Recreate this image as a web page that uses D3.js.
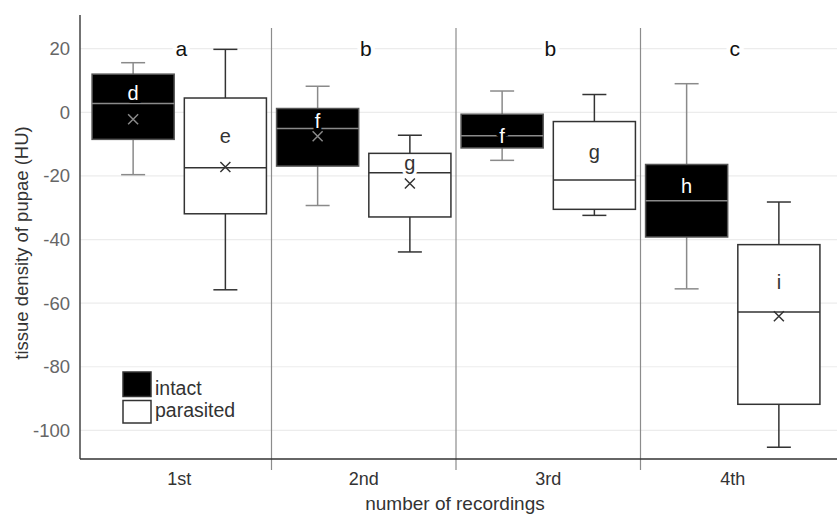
<!DOCTYPE html>
<html>
<head>
<meta charset="utf-8">
<script src="https://cdn.jsdelivr.net/npm/d3@7"></script>
<style>
  body { margin: 0; background: #fff; }
  svg { font-family: "Liberation Sans", Arial, sans-serif; }
</style>
</head>
<body>
<svg id="chart" width="837" height="515"></svg>
<script>
// recordings on the x axis, letters of the group test above each
const categories = ['1st', '2nd', '3rd', '4th'];
const groupLetters = ['a', 'b', 'b', 'c'];
const yTicks = [-100, -80, -60, -40, -20, 0, 20];

// intact pupae (black boxes)
const intactHigh   = [15.6, 8.2, 6.7, 9.0];
const intactQ3     = [12.0, 1.2, -0.6, -16.4];
const intactMedian = [2.8, -5.1, -7.4, -27.8];
const intactQ1     = [-8.5, -16.9, -11.2, -39.2];
const intactLow    = [-19.6, -29.3, -15.1, -55.5];
const intactMean   = [-2.2, -7.5, null, null];
const intactLetters = ['d', 'f', 'f', 'h'];
const intactLetterAt = [6.0, -2.8, -7.5, -23.0];

// parasited pupae (white boxes)
const parasitedHigh   = [19.8, -7.2, 5.6, -28.2];
const parasitedQ3     = [4.5, -12.9, -2.9, -41.6];
const parasitedMedian = [-17.4, -19.0, -21.3, -62.8];
const parasitedQ1     = [-31.9, -32.9, -30.5, -91.8];
const parasitedLow    = [-55.8, -43.9, -32.4, -105.3];
const parasitedMean   = [-17.2, -22.4, null, -64.1];
const parasitedLetters = ['e', 'g', 'g', 'i'];
const parasitedLetterAt = [-7.5, -16.0, -12.5, -53.4];

const series = ['intact', 'parasited'];

function buildBoxes(name, high, q3, med, q1, low, mean, letters, letterAt) {
    return categories.map((c, i) => ({
        cat: c, series: name,
        high: high[i], q3: q3[i], median: med[i], q1: q1[i], low: low[i],
        mean: mean[i], letter: letters[i], letterAt: letterAt[i]
    }));
}

const boxes = buildBoxes('intact', intactHigh, intactQ3, intactMedian, intactQ1, intactLow,
        intactMean, intactLetters, intactLetterAt)
    .concat(buildBoxes('parasited', parasitedHigh, parasitedQ3, parasitedMedian, parasitedQ1,
        parasitedLow, parasitedMean, parasitedLetters, parasitedLetterAt));

const style = {
    intact:    { fill: '#000', edge: '#555', line: '#8a8a8a', text: '#fff', halo: '#000' },
    parasited: { fill: '#fff', edge: '#333', line: '#333', text: '#333', halo: '#fff' }
};

const svg = d3.select('#chart');
const axisX = 80, plotLeft = 87, plotRight = 825, right = 837;

const y = d3.scaleLinear().domain([-109, 30.6]).range([459, 15]);
const x = d3.scaleBand().domain(categories).range([plotLeft, plotRight]).padding(0);
const xs = d3.scaleBand().domain(series).range([0, x.bandwidth()])
    .paddingInner(0.11).paddingOuter(0.055);

// horizontal gridlines
svg.append('g')
    .selectAll('line')
    .data(yTicks)
    .enter().append('line')
        .attr('x1', axisX).attr('x2', right)
        .attr('y1', d => y(d)).attr('y2', d => y(d))
        .attr('stroke', '#ececec').attr('stroke-width', 1.2);

// separators between recordings
svg.append('g')
    .selectAll('line')
    .data(categories.slice(1))
    .enter().append('line')
        .attr('x1', d => x(d)).attr('x2', d => x(d))
        .attr('y1', y(26.5)).attr('y2', y.range()[0] + 11)
        .attr('stroke', '#8c8c8c').attr('stroke-width', 1.2);

// y axis (plain hyphen for the minus, as in the original)
const gy = svg.append('g')
    .attr('transform', 'translate(' + axisX + ',0)')
    .call(d3.axisLeft(y).tickValues(yTicks).tickFormat(d => String(d))
        .tickSize(0).tickPadding(10));
gy.select('.domain').remove();
gy.selectAll('text').attr('font-size', 18.5).attr('fill', '#666')
    .attr('font-family', '"Liberation Sans", Arial, sans-serif');
svg.append('line')
    .attr('x1', axisX).attr('x2', axisX)
    .attr('y1', y.range()[1]).attr('y2', y.range()[0])
    .attr('stroke', '#444').attr('stroke-width', 1.5);

// x axis
const gx = svg.append('g')
    .attr('transform', 'translate(0,' + y.range()[0] + ')')
    .call(d3.axisBottom(x).tickSize(0).tickPadding(13));
gx.select('.domain').remove();
gx.selectAll('text').attr('font-size', 18).attr('fill', '#333')
    .attr('font-family', '"Liberation Sans", Arial, sans-serif');
svg.append('line')
    .attr('x1', axisX).attr('x2', right)
    .attr('y1', y.range()[0]).attr('y2', y.range()[0])
    .attr('stroke', '#333').attr('stroke-width', 1.6);

// group letters
svg.append('g')
    .selectAll('text')
    .data(categories)
    .enter().append('text')
        .attr('x', d => x(d) + x.bandwidth() / 2 + 2)
        .attr('y', y(20))
        .attr('dy', '0.36em')
        .attr('text-anchor', 'middle')
        .attr('font-size', 21)
        .attr('fill', '#111')
        .attr('stroke', '#fff').attr('stroke-width', 8).attr('paint-order', 'stroke')
        .text((d, i) => groupLetters[i]);

// boxes
const capW = 24;
const box = svg.append('g')
    .selectAll('.box')
    .data(boxes)
    .enter().append('g')
        .attr('class', 'box')
        .attr('transform', d => 'translate(' + (x(d.cat) + xs(d.series)) + ',0)');

const bw = xs.bandwidth();

box.append('line')
    .attr('x1', bw / 2).attr('x2', bw / 2)
    .attr('y1', d => y(d.high)).attr('y2', d => y(d.low))
    .attr('stroke', d => style[d.series].line).attr('stroke-width', 1.5);

box.selectAll('.cap')
    .data(d => [{v: d.high, s: d.series}, {v: d.low, s: d.series}])
    .enter().append('line')
        .attr('class', 'cap')
        .attr('x1', bw / 2 - capW / 2).attr('x2', bw / 2 + capW / 2)
        .attr('y1', d => y(d.v)).attr('y2', d => y(d.v))
        .attr('stroke', d => style[d.s].line).attr('stroke-width', 1.5);

box.append('rect')
    .attr('x', 0).attr('width', bw)
    .attr('y', d => y(d.q3))
    .attr('height', d => y(d.q1) - y(d.q3))
    .attr('fill', d => style[d.series].fill)
    .attr('stroke', d => style[d.series].edge).attr('stroke-width', 1.5);

box.append('line')
    .attr('x1', 0).attr('x2', bw)
    .attr('y1', d => y(d.median)).attr('y2', d => y(d.median))
    .attr('stroke', d => style[d.series].line).attr('stroke-width', 1.5);

// mean markers
const m = 5;
box.filter(d => d.mean !== null)
    .append('path')
    .attr('d', d => {
        const cy = y(d.mean), cx = bw / 2;
        return 'M' + (cx - m) + ',' + (cy - m) + 'L' + (cx + m) + ',' + (cy + m) +
               'M' + (cx - m) + ',' + (cy + m) + 'L' + (cx + m) + ',' + (cy - m);
    })
    .attr('stroke', d => style[d.series].line).attr('stroke-width', 1.5)
    .attr('fill', 'none');

// letters of the pairwise test
box.append('text')
    .attr('x', bw / 2)
    .attr('y', d => y(d.letterAt))
    .attr('dy', '0.36em')
    .attr('text-anchor', 'middle')
    .attr('font-size', 20)
    .attr('fill', d => style[d.series].text)
    .attr('stroke', d => style[d.series].halo).attr('stroke-width', 6)
    .attr('paint-order', 'stroke')
    .text(d => d.letter);

// legend
const legend = svg.append('g').attr('transform', 'translate(123,372)');
legend.selectAll('rect')
    .data(series)
    .enter().append('rect')
        .attr('x', 0).attr('y', (d, i) => i * 28.5)
        .attr('width', 28).attr('height', (d, i) => i === 0 ? 24.5 : 22.5)
        .attr('fill', d => style[d].fill)
        .attr('stroke', '#333').attr('stroke-width', 1.5);
legend.selectAll('text')
    .data(series)
    .enter().append('text')
        .attr('x', 32).attr('y', (d, i) => 23 + i * 22)
        .attr('font-size', 19.5)
        .attr('fill', '#333')
        .text(d => d);

// axis titles
svg.append('text')
    .attr('transform', 'translate(22,243) rotate(-90)')
    .attr('text-anchor', 'middle')
    .attr('dy', '0.35em')
    .attr('font-size', 18.5)
    .attr('fill', '#333')
    .text('tissue density of pupae (HU)');

svg.append('text')
    .attr('x', 455).attr('y', 510)
    .attr('text-anchor', 'middle')
    .attr('font-size', 19)
    .attr('fill', '#333')
    .text('number of recordings');
</script>
</body>
</html>
